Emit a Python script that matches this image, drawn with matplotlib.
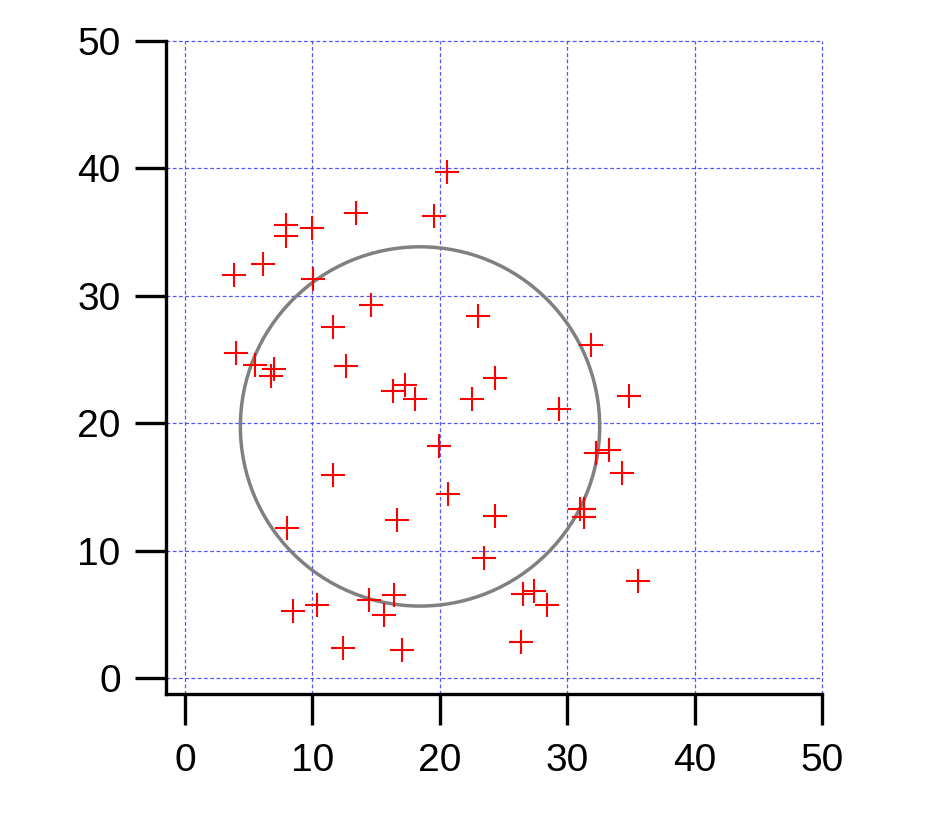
import matplotlib
matplotlib.use("Agg")
import matplotlib.pyplot as plt
from matplotlib.patches import Circle

x_values = [20.54, 19.57, 13.45, 7.95, 7.95, 9.99, 6.15, 3.87, 10.07, 14.63,
            23.02, 11.64, 4.00, 5.52, 6.99, 6.77, 12.66, 17.29, 16.30, 18.08,
            22.55, 24.36, 31.89, 34.87, 29.38, 19.96, 20.67, 24.36, 23.50, 11.64,
            8.03, 16.67, 10.39, 8.50, 14.44, 16.43, 15.62, 12.43, 17.06, 32.23,
            33.31, 34.33, 31.00, 31.35, 31.32, 35.59, 26.56, 27.39, 28.44, 26.40]
y_values = [39.69, 36.24, 36.47, 35.53, 34.69, 35.29, 32.47, 31.61, 31.29, 29.28,
            28.41, 27.53, 25.49, 24.54, 24.25, 23.70, 24.47, 23.00, 22.55, 21.90,
            21.90, 23.52, 26.11, 22.11, 21.11, 18.18, 14.42, 12.69, 9.42, 15.91,
            11.75, 12.40, 5.70, 5.23, 6.10, 6.49, 4.97, 2.33, 2.20, 17.64,
            17.87, 16.07, 13.29, 13.24, 12.66, 7.59, 6.59, 6.80, 5.70, 2.80]
circle_center = (18.45, 19.74)
circle_radius = 14.1
ticks = [0, 10, 20, 30, 40, 50]

plt.rcParams['font.family'] = ['Liberation Sans', 'DejaVu Sans']

fig = plt.figure(figsize=(9.26, 8.32), dpi=100)
ax = fig.add_axes([0.1798, 0.1659, 0.7079, 0.7849])

ax.set_xlim(-1.45, 50)
ax.set_ylim(-1.26, 50)

for t in ticks:
    ax.axvline(t, color='#5555ff', lw=0.9, ls=(0, (3, 2)), zorder=0.5,
               clip_on=False)
    ax.axhline(t, color='#5555ff', lw=0.9, ls=(0, (3, 2)), zorder=0.5,
               clip_on=False)

ax.plot(x_values, y_values, ls='none', marker='+', ms=17, mew=1.5,
        color='red', zorder=3)
ax.add_patch(Circle(circle_center, circle_radius, fill=False,
                    edgecolor='#808080', lw=2.5, zorder=2))

ax.set_xticks(ticks)
ax.set_yticks(ticks)
for s in ['top', 'right']:
    ax.spines[s].set_visible(False)
for s in ['left', 'bottom']:
    ax.spines[s].set_linewidth(2.4)
ax.tick_params(axis='both', direction='out', length=22, width=2.4,
               labelsize=28)
ax.tick_params(axis='x', pad=13)
ax.tick_params(axis='y', pad=11)

fig.savefig('out.png', dpi=100)
